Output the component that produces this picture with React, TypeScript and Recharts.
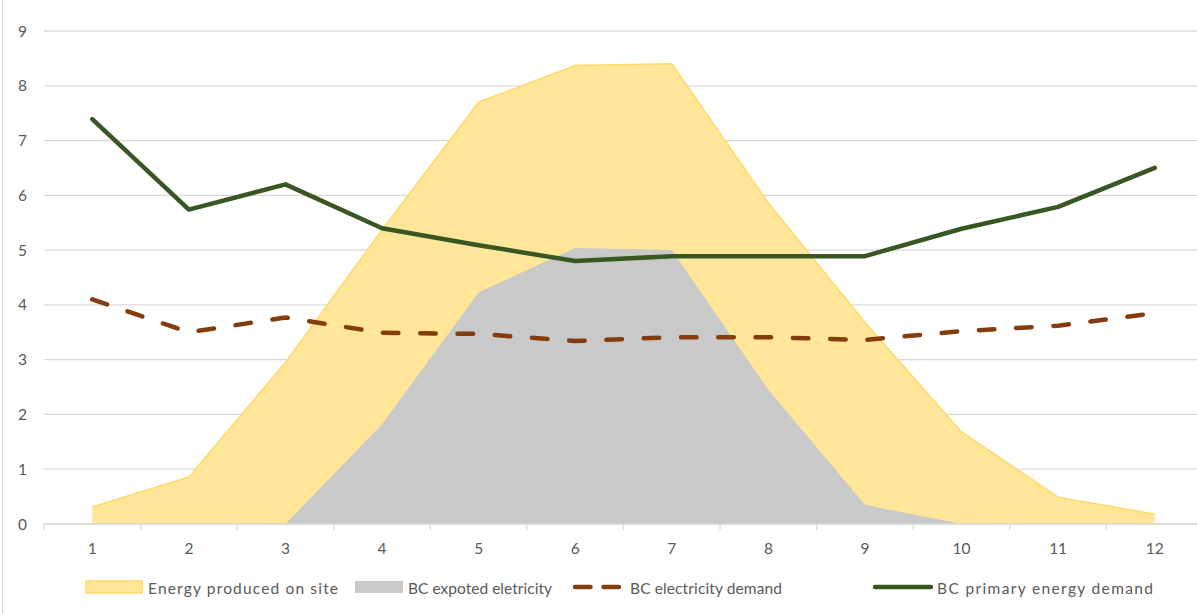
import { ComposedChart, Area, Line, XAxis, YAxis, CartesianGrid, Legend } from 'recharts';

const months = ['1', '2', '3', '4', '5', '6', '7', '8', '9', '10', '11', '12'];
const producedOnSite = [0.31, 0.86, 2.95, 5.37, 7.7, 8.37, 8.4, 5.86, 3.68, 1.68, 0.49, 0.18];
const exportedElectricity = [0, 0, 0, 1.82, 4.23, 5.04, 5.0, 2.45, 0.35, 0, 0, 0];
const electricityDemand = [4.1, 3.5, 3.77, 3.49, 3.47, 3.34, 3.41, 3.41, 3.36, 3.52, 3.62, 3.85];
const primaryEnergyDemand = [7.39, 5.74, 6.2, 5.4, 5.09, 4.8, 4.89, 4.89, 4.89, 5.39, 5.79, 6.5];
const yTicks = [0, 1, 2, 3, 4, 5, 6, 7, 8, 9];

const data = months.map((m, i) => ({
  month: m,
  produced: producedOnSite[i],
  exported: exportedElectricity[i],
  elecDemand: electricityDemand[i],
  primaryDemand: primaryEnergyDemand[i],
}));

const FONT = 'Lato, "Open Sans", sans-serif';
const TEXT = '#595959';
const GRID = '#d9d9d9';

const CHART_W = 1206;
const PLOT_LEFT = 44;
const PLOT_RIGHT = 1203;
const HALF_BAND = (PLOT_RIGHT - PLOT_LEFT) / months.length / 2;

function MonthTick(props: any) {
  const { x, y, payload, index } = props;
  const last = index === months.length - 1;
  return (
    <g>
      <line x1={x - HALF_BAND} x2={x - HALF_BAND} y1={y} y2={y + 6} stroke={GRID} strokeWidth={1.3} />
      {last && <line x1={x + HALF_BAND} x2={x + HALF_BAND} y1={y} y2={y + 6} stroke={GRID} strokeWidth={1.3} />}
      <text x={x} y={y + 29.5} textAnchor="middle" fill={TEXT} fontSize={15.5} fontFamily={FONT}>
        {payload.value}
      </text>
    </g>
  );
}

// legend drawn as one svg row; text widths pinned so the row lines up
function LegendContent() {
  const textProps = { y: 29.5, fill: TEXT, fontSize: 15.5, fontFamily: FONT, lengthAdjust: 'spacing' as const };
  return (
    <svg width={1197} height={50} style={{ display: 'block' }}>
      <rect x={86} y={17} width={56} height={12} fill="#FFE699" stroke="#FFD966" strokeWidth={1.5} />
      <text x={148} textLength={190} {...textProps}>Energy produced on site</text>
      <rect x={355} y={17} width={48} height={12} fill="#C9C9C9" />
      <text x={408} textLength={144} {...textProps}>BC expoted eletricity</text>
      <line x1={575} x2={620} y1={23} y2={23} stroke="#843C0C" strokeWidth={4.5} strokeLinecap="round" strokeDasharray="15.5 13" />
      <text x={630} textLength={152} {...textProps}>BC electricity demand</text>
      <line x1={875} x2={931} y1={23} y2={23} stroke="#385723" strokeWidth={4.5} strokeLinecap="round" />
      <text x={937} textLength={216} {...textProps}>BC primary energy demand</text>
    </svg>
  );
}

export default function App() {
  return (
    <div
      style={{
        position: 'fixed',
        left: 0,
        top: 0,
        width: 1197,
        height: 614,
        overflow: 'hidden',
        background: '#fff',
      }}
    >
      <div style={{ position: 'absolute', left: 2, top: 0, width: 1, height: 614, background: GRID }} />
      <ComposedChart
        width={CHART_W}
        height={614}
        data={data}
        margin={{ top: 31, right: CHART_W - PLOT_RIGHT, bottom: 0, left: 0 }}
        style={{ fontFamily: FONT }}
      >
        <CartesianGrid vertical={false} stroke={GRID} strokeWidth={1.3} />
        <XAxis
          dataKey="month"
          scale="point"
          padding={{ left: HALF_BAND, right: HALF_BAND }}
          height={40}
          axisLine={{ stroke: GRID, strokeWidth: 1.3 }}
          tickLine={false}
          tickSize={0}
          tickMargin={0}
          tick={<MonthTick />}
          interval={0}
        />
        <YAxis
          width={PLOT_LEFT}
          domain={[0, 9]}
          ticks={yTicks}
          axisLine={false}
          tickLine={false}
          tickSize={0}
          tickMargin={17}
          tick={{ fill: TEXT, fontSize: 15.5, fontFamily: FONT }}
        />
        <Area
          dataKey="produced"
          name="Energy produced on site"
          type="linear"
          fill="#FFE699"
          fillOpacity={1}
          stroke="#FFD966"
          strokeWidth={1.5}
          isAnimationActive={false}
        />
        <Area
          dataKey="exported"
          name="BC expoted eletricity"
          type="linear"
          fill="#C9C9C9"
          fillOpacity={1}
          stroke="none"
          isAnimationActive={false}
        />
        <Line
          dataKey="elecDemand"
          name="BC electricity demand"
          type="linear"
          stroke="#843C0C"
          strokeWidth={4.5}
          strokeLinecap="round"
          strokeDasharray="15.5 21.8"
          dot={false}
          isAnimationActive={false}
        />
        <Line
          dataKey="primaryDemand"
          name="BC primary energy demand"
          type="linear"
          stroke="#385723"
          strokeWidth={4.5}
          strokeLinecap="round"
          strokeLinejoin="round"
          dot={false}
          isAnimationActive={false}
        />
        <Legend
          verticalAlign="bottom"
          height={50}
          wrapperStyle={{ left: 0, width: 1197, height: 50 }}
          content={<LegendContent />}
        />
      </ComposedChart>
    </div>
  );
}
